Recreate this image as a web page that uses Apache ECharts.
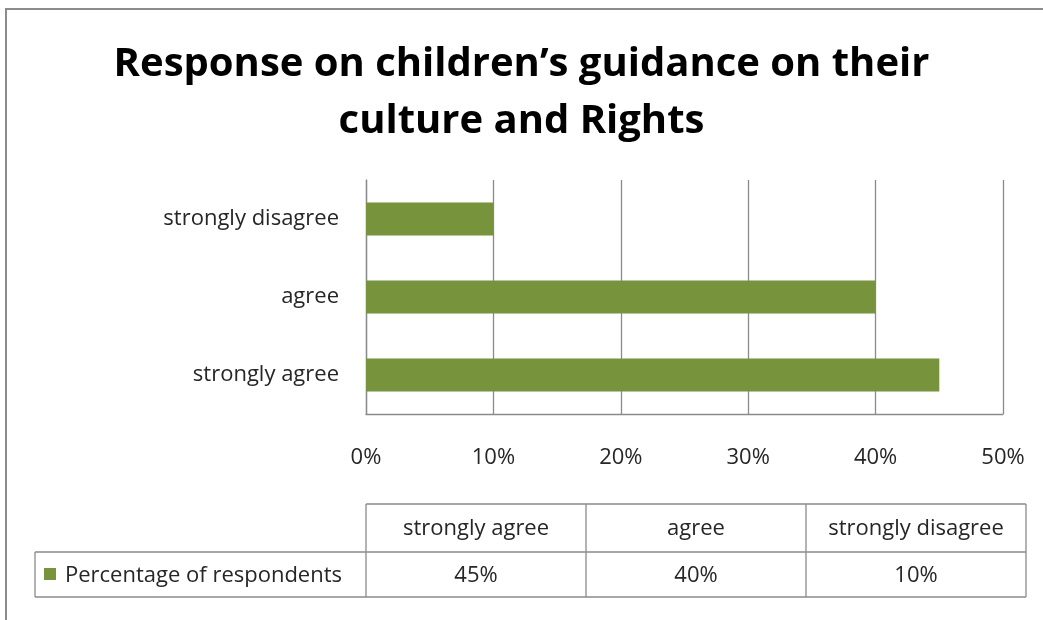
<!DOCTYPE html>
<html><head><meta charset="utf-8">
<script src="https://cdn.jsdelivr.net/npm/echarts@6/dist/echarts.min.js"></script>
<style>html,body{margin:0;padding:0;background:#fff}#c{width:1043px;height:620px}</style>
</head><body><div id="c"></div>
<script>
var titleText = 'Response on children\u2019s guidance on their\nculture and Rights';
var categories = ['strongly agree', 'agree', 'strongly disagree'];
var seriesName = 'Percentage of respondents';
var values = [45, 40, 10];
var xTicks = [0, 10, 20, 30, 40, 50];

var FONT = '"Open Sans", Lato, sans-serif';
var GREEN = '#77933C';
var LINE = '#8a8a8a';
var TXT = '#262626';
var FS = 22;

var chart = echarts.init(document.getElementById('c'), null, {renderer: 'canvas'});

var tblLeft = 35, colStart = 366, colW = 220, rowTop = 504, rowMid = 552, rowBot = 597;
var g = [];
g.push({type: 'rect', shape: {x: 6, y: 9, width: 1100, height: 700}, style: {fill: 'none', stroke: '#8c8c8c', lineWidth: 2}, silent: true});
var n = categories.length;
var colEnd = colStart + colW * n;
function line(x1, y1, x2, y2) {
  g.push({type: 'line', shape: {x1: x1, y1: y1, x2: x2, y2: y2}, style: {stroke: LINE, lineWidth: 1.3}, silent: true});
}
line(colStart, rowTop, colEnd, rowTop);
line(tblLeft, rowMid, colEnd, rowMid);
line(tblLeft, rowBot, colEnd, rowBot);
line(tblLeft, rowMid, tblLeft, rowBot);
for (var i = 0; i <= n; i++) line(colStart + colW * i, rowTop, colStart + colW * i, rowBot);
for (var j = 0; j < n; j++) {
  var cx = colStart + colW * j + colW / 2;
  g.push({type: 'text', x: cx, y: (rowTop + rowMid) / 2 + 1, style: {text: categories[j], font: FS + 'px ' + FONT, fill: TXT, align: 'center', verticalAlign: 'middle'}, silent: true});
  g.push({type: 'text', x: cx, y: (rowMid + rowBot) / 2 + 1, style: {text: values[j] + '%', font: FS + 'px ' + FONT, fill: TXT, align: 'center', verticalAlign: 'middle'}, silent: true});
}
g.push({type: 'rect', shape: {x: 44, y: 568, width: 12, height: 12}, style: {fill: GREEN}, silent: true});
g.push({type: 'text', x: 65, y: (rowMid + rowBot) / 2 + 1, style: {text: seriesName, font: FS + 'px ' + FONT, fill: TXT, align: 'left', verticalAlign: 'middle'}, silent: true});

chart.setOption({
  animation: false,
  backgroundColor: '#fff',
  title: {
    text: titleText, left: 'center', top: 31,
    textStyle: {fontFamily: FONT, fontWeight: 'bold', fontSize: 40, lineHeight: 57, color: '#000'}
  },
  grid: {left: 366, right: 40, top: 180, bottom: 206, containLabel: false},
  xAxis: {
    type: 'value', min: xTicks[0], max: xTicks[xTicks.length - 1], interval: 10,
    axisLine: {show: true, lineStyle: {color: LINE, width: 1.3}},
    axisTick: {show: false},
    splitLine: {show: true, lineStyle: {color: LINE, width: 1.3}},
    axisLabel: {formatter: '{value}%', margin: 33, fontFamily: FONT, fontSize: FS, color: TXT}
  },
  yAxis: {
    type: 'category', data: categories,
    axisLine: {show: true, lineStyle: {color: LINE, width: 1.3}},
    axisTick: {show: false},
    axisLabel: {margin: 27, fontFamily: FONT, fontSize: FS, color: TXT}
  },
  series: [{
    name: seriesName, type: 'bar', data: values, barCategoryGap: '58%',
    itemStyle: {color: GREEN}
  }],
  graphic: g
});
</script></body></html>
